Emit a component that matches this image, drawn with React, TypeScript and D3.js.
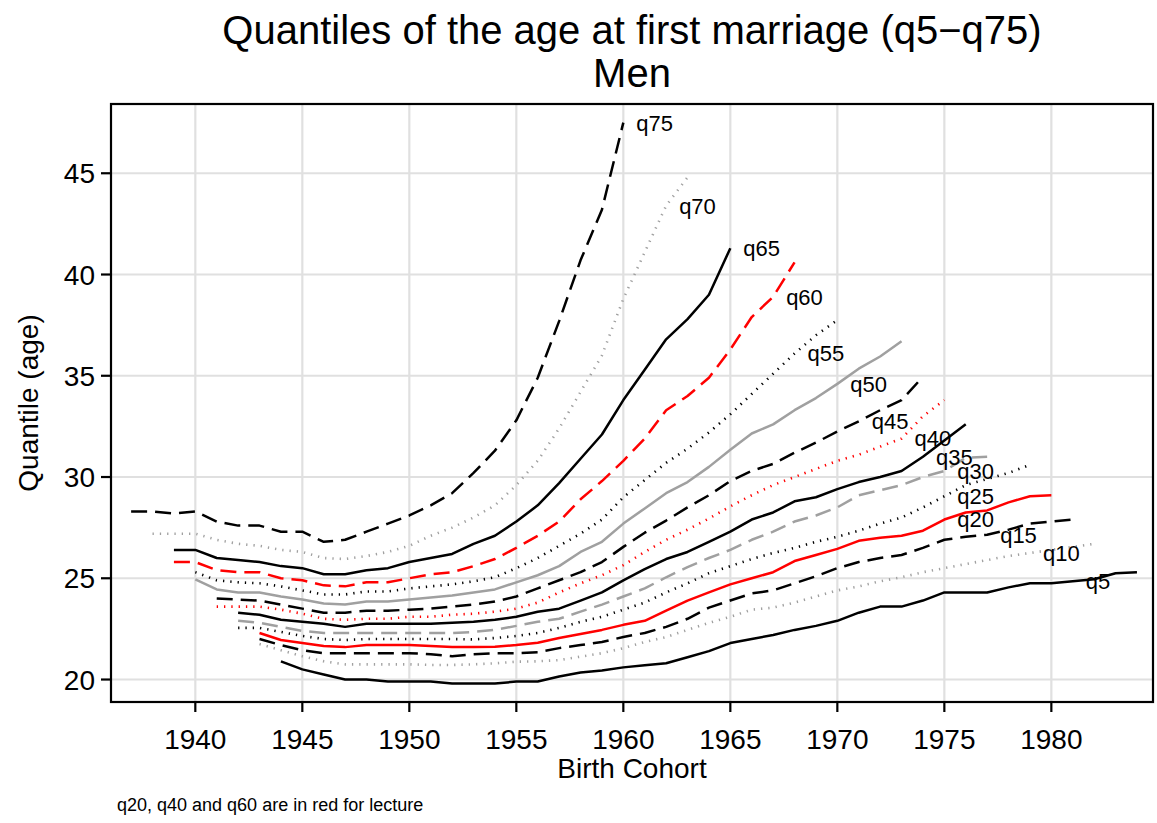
import React from "react";
import { scaleLinear, line } from "d3";

// quantiles of age at first marriage, men, by birth cohort (one value per year)
const q75Start = 1937;
const q75 = [28.3, 28.3, 28.2, 28.3, 27.8, 27.6, 27.6, 27.3, 27.3, 26.8, 26.9, 27.3, 27.7, 28.1, 28.6, 29.2, 30.2, 31.3, 32.8, 34.9, 37.7, 40.7, 43.2, 47.5];
const q70Start = 1938;
const q70 = [27.2, 27.2, 27.2, 26.9, 26.7, 26.6, 26.4, 26.3, 26.0, 25.95, 26.1, 26.3, 26.6, 27.1, 27.5, 28.0, 28.6, 29.6, 30.8, 32.4, 34.2, 36.0, 38.8, 41.1, 43.4, 44.8];
const q65Start = 1939;
const q65 = [26.4, 26.4, 26.0, 25.9, 25.8, 25.6, 25.5, 25.2, 25.2, 25.4, 25.5, 25.8, 26.0, 26.2, 26.7, 27.1, 27.8, 28.6, 29.7, 30.9, 32.1, 33.8, 35.3, 36.8, 37.8, 39.0, 41.3];
const q60Start = 1939;
const q60 = [25.8, 25.8, 25.4, 25.3, 25.3, 25.0, 24.9, 24.65, 24.6, 24.8, 24.8, 25.0, 25.2, 25.3, 25.6, 25.95, 26.5, 27.1, 27.8, 28.9, 29.8, 30.8, 31.9, 33.3, 34.0, 34.9, 36.3, 37.9, 38.9, 40.6];
const q55Start = 1940;
const q55 = [25.3, 24.9, 24.8, 24.75, 24.6, 24.4, 24.2, 24.2, 24.35, 24.35, 24.5, 24.6, 24.7, 24.85, 25.05, 25.5, 26.0, 26.6, 27.2, 27.9, 29.0, 29.85, 30.7, 31.4, 32.2, 33.1, 34.1, 35.1, 36.1, 37.0, 37.75];
const q50Start = 1940;
const q50 = [24.95, 24.45, 24.3, 24.3, 24.1, 23.95, 23.75, 23.7, 23.85, 23.85, 23.95, 24.05, 24.15, 24.3, 24.45, 24.8, 25.15, 25.6, 26.3, 26.8, 27.7, 28.45, 29.2, 29.75, 30.5, 31.35, 32.15, 32.6, 33.3, 33.9, 34.6, 35.35, 35.95, 36.7];
const q45Start = 1941;
const q45 = [24.0, 23.95, 23.9, 23.7, 23.5, 23.3, 23.3, 23.4, 23.4, 23.45, 23.5, 23.6, 23.7, 23.85, 24.1, 24.5, 24.9, 25.3, 25.8, 26.55, 27.25, 27.85, 28.5, 29.1, 29.8, 30.3, 30.65, 31.2, 31.7, 32.25, 32.75, 33.3, 33.8, 34.95];
const q40Start = 1941;
const q40 = [23.6, 23.6, 23.6, 23.45, 23.25, 23.0, 22.95, 23.0, 23.0, 23.1, 23.1, 23.2, 23.25, 23.35, 23.5, 23.8, 24.3, 24.75, 25.15, 25.65, 26.3, 26.9, 27.4, 27.95, 28.55, 29.1, 29.6, 30.0, 30.4, 30.8, 31.1, 31.5, 31.9, 33.0, 33.8];
const q35Start = 1942;
const q35 = [23.3, 23.2, 22.95, 22.85, 22.75, 22.6, 22.75, 22.75, 22.75, 22.75, 22.8, 22.85, 22.95, 23.1, 23.35, 23.5, 23.9, 24.3, 24.9, 25.45, 25.95, 26.3, 26.8, 27.3, 27.9, 28.25, 28.8, 29.0, 29.4, 29.75, 30.0, 30.3, 31.0, 31.8, 32.6];
const q30Start = 1942;
const q30 = [22.9, 22.8, 22.6, 22.4, 22.3, 22.3, 22.3, 22.3, 22.3, 22.3, 22.3, 22.35, 22.45, 22.65, 22.85, 23.0, 23.35, 23.7, 24.1, 24.5, 25.05, 25.55, 26.0, 26.4, 26.9, 27.3, 27.8, 28.1, 28.5, 29.1, 29.35, 29.6, 30.0, 30.3, 30.95, 31.0];
const q25Start = 1942;
const q25 = [22.55, 22.55, 22.35, 22.15, 22.0, 21.95, 22.0, 22.0, 22.0, 22.0, 22.0, 21.98, 22.05, 22.15, 22.3, 22.55, 22.85, 23.1, 23.45, 23.8, 24.3, 24.75, 25.25, 25.6, 25.95, 26.25, 26.5, 26.8, 27.05, 27.35, 27.7, 28.0, 28.5, 29.05, 29.6, 29.9, 30.2, 30.6];
const q20Start = 1943;
const q20 = [22.3, 21.95, 21.8, 21.65, 21.6, 21.7, 21.7, 21.7, 21.65, 21.6, 21.6, 21.62, 21.7, 21.82, 22.05, 22.25, 22.45, 22.7, 22.9, 23.4, 23.9, 24.3, 24.7, 25.0, 25.3, 25.85, 26.15, 26.45, 26.85, 27.0, 27.1, 27.35, 27.9, 28.25, 28.35, 28.75, 29.05, 29.1];
const q15Start = 1943;
const q15 = [22.0, 21.7, 21.45, 21.3, 21.3, 21.3, 21.3, 21.3, 21.25, 21.15, 21.25, 21.3, 21.3, 21.35, 21.55, 21.7, 21.85, 22.1, 22.3, 22.6, 23.0, 23.55, 23.9, 24.25, 24.4, 24.75, 25.1, 25.5, 25.8, 26.0, 26.15, 26.5, 26.9, 27.05, 27.15, 27.4, 27.7, 27.8, 27.9];
const q10Start = 1943;
const q10 = [21.75, 21.45, 21.15, 20.9, 20.75, 20.75, 20.75, 20.75, 20.72, 20.72, 20.75, 20.8, 20.88, 20.9, 20.96, 21.13, 21.3, 21.55, 21.85, 22.1, 22.45, 22.8, 23.1, 23.45, 23.55, 23.8, 24.1, 24.4, 24.6, 24.85, 25.05, 25.3, 25.5, 25.7, 25.9, 26.1, 26.25, 26.4, 26.55, 26.7];
const q5Start = 1944;
const q5 = [20.9, 20.5, 20.25, 20.0, 20.0, 19.9, 19.9, 19.9, 19.8, 19.8, 19.8, 19.9, 19.9, 20.15, 20.35, 20.45, 20.6, 20.7, 20.8, 21.1, 21.4, 21.8, 22.0, 22.2, 22.45, 22.65, 22.9, 23.3, 23.6, 23.6, 23.9, 24.3, 24.3, 24.3, 24.55, 24.75, 24.75, 24.85, 24.95, 25.25, 25.3];

const seriesNames = ["q75", "q70", "q65", "q60", "q55", "q50", "q45", "q40", "q35", "q30", "q25", "q20", "q15", "q10", "q5"];
const seriesValues = [q75, q70, q65, q60, q55, q50, q45, q40, q35, q30, q25, q20, q15, q10, q5];
const seriesStarts = [q75Start, q70Start, q65Start, q60Start, q55Start, q50Start, q45Start, q40Start, q35Start, q30Start, q25Start, q20Start, q15Start, q10Start, q5Start];
// cohort at which each curve gets its name written
const labelYears = [1960, 1962, 1965, 1967, 1968, 1970, 1971, 1973, 1974, 1975, 1975, 1975, 1977, 1979, 1981];

const xTicks = [1940, 1945, 1950, 1955, 1960, 1965, 1970, 1975, 1980];
const yTicks = [20, 25, 30, 35, 40, 45];

const W = 1157;
const H = 823;
const plot = { left: 111, right: 1153, top: 104, bottom: 702 };

const BLACK = "#000000";
const GRAY = "#a0a0a0";
const RED = "#ff0000";
const DASH = "16 8";
const DOT = "1.3 6";

// colour / pattern per quantile (q5 solid, q10 dotted, q15 dashed, ...)
const styleOf = (name: string) => {
  const q = +name.slice(1);
  const k = (q / 5 - 1) % 3;
  const dash = k === 0 ? undefined : k === 1 ? DOT : DASH;
  let color = BLACK;
  if (q === 20 || q === 40 || q === 60) color = RED;
  else if (q % 20 === 10) color = GRAY;
  return { color, dash };
};

const font = "'Liberation Sans', Arial, Helvetica, sans-serif";

export default function App() {
  const x = scaleLinear().domain([1936.06, 1984.75]).range([plot.left, plot.right]);
  const y = scaleLinear().domain([18.89, 48.42]).range([plot.bottom, plot.top]);

  const lineGen = line<[number, number]>()
    .x((d) => x(d[0]))
    .y((d) => y(d[1]));

  const series = seriesNames.map((name, i) => {
    const pts: [number, number][] = seriesValues[i].map((v, j) => [seriesStarts[i] + j, v]);
    const lab = pts.find((p) => p[0] === labelYears[i]) || pts[pts.length - 1];
    return { name, pts, lab, ...styleOf(name) };
  });

  const cx = (plot.left + plot.right) / 2;
  const cy = (plot.top + plot.bottom) / 2;

  return (
    <svg
      width={W}
      height={H}
      style={{ position: "absolute", left: 0, top: 0, background: "#fff" }}
      fontFamily={font}
    >
      <rect x={0} y={0} width={W} height={H} fill="#fff" />

      {/* grid */}
      {xTicks.map((t) => (
        <line key={"gx" + t} x1={x(t)} x2={x(t)} y1={plot.top} y2={plot.bottom} stroke="#e0e0e0" strokeWidth={2.2} />
      ))}
      {yTicks.map((t) => (
        <line key={"gy" + t} x1={plot.left} x2={plot.right} y1={y(t)} y2={y(t)} stroke="#e0e0e0" strokeWidth={2.2} />
      ))}

      {/* curves */}
      {series.map((s) => (
        <path
          key={s.name}
          d={lineGen(s.pts) || ""}
          fill="none"
          stroke={s.color}
          strokeWidth={s.dash === DOT ? 2.6 : 2.5}
          strokeDasharray={s.dash}
          strokeLinejoin="round"
        />
      ))}

      {/* curve names */}
      {series.map((s) => (
        <text
          key={"l" + s.name}
          x={x(s.lab[0]) + 13}
          y={y(s.lab[1])}
          dy="0.36em"
          fontSize={22}
          fill="#000"
        >
          {s.name}
        </text>
      ))}

      {/* frame */}
      <rect
        x={plot.left}
        y={plot.top}
        width={plot.right - plot.left}
        height={plot.bottom - plot.top}
        fill="none"
        stroke="#000"
        strokeWidth={2.2}
      />

      {/* axes ticks and labels */}
      {xTicks.map((t) => (
        <g key={"tx" + t}>
          <line x1={x(t)} x2={x(t)} y1={plot.bottom} y2={plot.bottom + 10} stroke="#000" strokeWidth={2.2} />
          <text x={x(t)} y={plot.bottom + 47} textAnchor="middle" fontSize={28}>
            {t}
          </text>
        </g>
      ))}
      {yTicks.map((t) => (
        <g key={"ty" + t}>
          <line x1={plot.left - 10} x2={plot.left} y1={y(t)} y2={y(t)} stroke="#000" strokeWidth={2.2} />
          <text x={plot.left - 16} y={y(t)} dy="0.36em" textAnchor="end" fontSize={28}>
            {t}
          </text>
        </g>
      ))}

      <text x={cx} y={plot.bottom + 76} textAnchor="middle" fontSize={28}>
        Birth Cohort
      </text>
      <text
        transform={`translate(${38},${cy}) rotate(-90)`}
        textAnchor="middle"
        fontSize={28}
      >
        Quantile (age)
      </text>

      <text x={cx} y={44} textAnchor="middle" fontSize={40}>
        Quantiles of the age at first marriage (q5−q75)
      </text>
      <text x={cx} y={87} textAnchor="middle" fontSize={40}>
        Men
      </text>

      <text x={117} y={811} fontSize={18}>
        q20, q40 and q60 are in red for lecture
      </text>
    </svg>
  );
}
